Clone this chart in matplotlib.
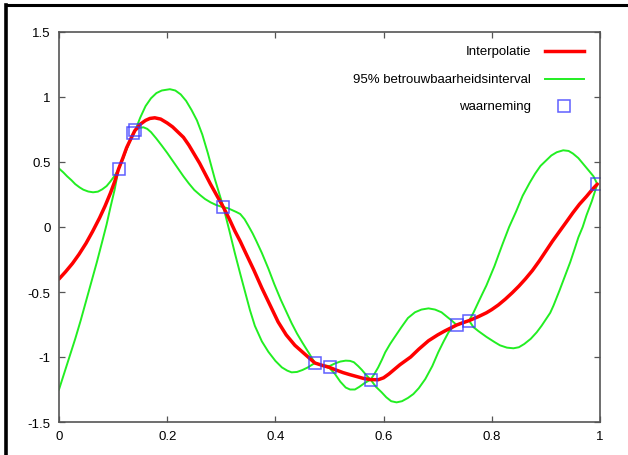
import matplotlib
matplotlib.use("Agg")
import matplotlib.pyplot as plt
from matplotlib.lines import Line2D

plt.rcParams['font.family'] = ['Liberation Sans', 'DejaVu Sans']

# waarnemingen (observations)
obs_x = [0.110, 0.137, 0.141, 0.304, 0.473, 0.500, 0.576, 0.735, 0.758, 0.995]
obs_y = [0.446, 0.723, 0.744, 0.151, -1.046, -1.080, -1.174, -0.754, -0.720, 0.330]

# interpolatie (mean)
mean_x = [0.000, 0.012, 0.025, 0.037, 0.050, 0.062, 0.075, 0.085, 0.095, 0.103,
          0.110, 0.118, 0.125, 0.133, 0.140, 0.150, 0.160, 0.168, 0.177, 0.188,
          0.200, 0.210, 0.220, 0.230, 0.240, 0.250, 0.260, 0.270, 0.280, 0.292,
          0.304, 0.315, 0.325, 0.335, 0.344, 0.360, 0.375, 0.390, 0.405, 0.420,
          0.436, 0.455, 0.473, 0.487, 0.500, 0.512, 0.525, 0.537, 0.550, 0.563,
          0.576, 0.590, 0.600, 0.610, 0.620, 0.630, 0.640, 0.650, 0.665, 0.683,
          0.700, 0.713, 0.725, 0.735, 0.746, 0.758, 0.775, 0.790, 0.800, 0.812,
          0.825, 0.838, 0.850, 0.862, 0.875, 0.888, 0.900, 0.912, 0.925, 0.938,
          0.950, 0.962, 0.975, 0.985, 0.995]
mean_y = [-0.40, -0.345, -0.28, -0.21, -0.125, -0.035, 0.07, 0.16, 0.26, 0.35,
          0.445, 0.53, 0.61, 0.68, 0.74, 0.79, 0.82, 0.835, 0.84, 0.83,
          0.80, 0.77, 0.73, 0.69, 0.63, 0.56, 0.49, 0.41, 0.33, 0.24,
          0.151, 0.06, -0.03, -0.11, -0.19, -0.33, -0.47, -0.60, -0.73, -0.83,
          -0.91, -0.98, -1.046, -1.065, -1.08, -1.10, -1.12, -1.135, -1.15, -1.165,
          -1.174, -1.175, -1.16, -1.13, -1.095, -1.06, -1.03, -1.00, -0.94, -0.875,
          -0.83, -0.80, -0.775, -0.754, -0.737, -0.72, -0.69, -0.66, -0.635, -0.60,
          -0.555, -0.505, -0.455, -0.40, -0.335, -0.26, -0.185, -0.11, -0.035, 0.04,
          0.11, 0.175, 0.235, 0.285, 0.33]

# 95% band, upper side
up_x = [0.000, 0.008, 0.015, 0.023, 0.030, 0.038, 0.045, 0.054, 0.063, 0.072,
        0.080, 0.088, 0.095, 0.103, 0.110, 0.118, 0.125, 0.133, 0.141, 0.150,
        0.160, 0.170, 0.180, 0.190, 0.205, 0.215, 0.225, 0.235, 0.245, 0.255,
        0.265, 0.275, 0.288, 0.296, 0.304, 0.312, 0.320, 0.328, 0.335, 0.343,
        0.350, 0.358, 0.365, 0.375, 0.387, 0.398, 0.410, 0.420, 0.430, 0.440,
        0.450, 0.462, 0.473, 0.485, 0.500, 0.510, 0.520, 0.530, 0.538, 0.545,
        0.553, 0.560, 0.568, 0.576, 0.583, 0.590, 0.597, 0.603, 0.612, 0.620,
        0.633, 0.645, 0.658, 0.670, 0.683, 0.695, 0.707, 0.717, 0.726, 0.735,
        0.746, 0.758, 0.766, 0.775, 0.783, 0.790, 0.798, 0.805, 0.812, 0.820,
        0.832, 0.845, 0.857, 0.870, 0.880, 0.890, 0.900, 0.910, 0.920, 0.932,
        0.942, 0.950, 0.960, 0.972, 0.980, 0.988, 0.995]
up_y = [0.45, 0.42, 0.39, 0.36, 0.33, 0.305, 0.287, 0.273, 0.267, 0.272,
        0.29, 0.315, 0.35, 0.395, 0.446, 0.52, 0.60, 0.68, 0.744, 0.84,
        0.93, 0.99, 1.03, 1.05, 1.06, 1.05, 1.02, 0.97, 0.90, 0.82,
        0.71, 0.57, 0.37, 0.26, 0.151, 0.145, 0.13, 0.115, 0.10, 0.06,
        0.01, -0.05, -0.11, -0.20, -0.32, -0.44, -0.56, -0.65, -0.74, -0.82,
        -0.89, -0.97, -1.046, -1.062, -1.07, -1.05, -1.035, -1.028, -1.03, -1.04,
        -1.07, -1.10, -1.14, -1.174, -1.13, -1.08, -1.02, -0.964, -0.90, -0.85,
        -0.77, -0.70, -0.656, -0.635, -0.626, -0.635, -0.656, -0.69, -0.72, -0.754,
        -0.74, -0.72, -0.66, -0.58, -0.51, -0.45, -0.37, -0.30, -0.22, -0.13,
        0.00, 0.12, 0.24, 0.34, 0.41, 0.47, 0.51, 0.55, 0.575, 0.59,
        0.585, 0.565, 0.53, 0.47, 0.43, 0.39, 0.33]

# 95% band, lower side
lo_x = [0.000, 0.010, 0.020, 0.030, 0.040, 0.050, 0.060, 0.070, 0.080, 0.088,
        0.095, 0.103, 0.110, 0.118, 0.125, 0.133, 0.141, 0.148, 0.156, 0.163,
        0.170, 0.180, 0.190, 0.200, 0.210, 0.220, 0.230, 0.240, 0.250, 0.261,
        0.270, 0.280, 0.290, 0.304, 0.315, 0.325, 0.335, 0.344, 0.353, 0.362,
        0.375, 0.387, 0.400, 0.412, 0.422, 0.430, 0.440, 0.450, 0.460, 0.473,
        0.485, 0.500, 0.510, 0.520, 0.530, 0.538, 0.547, 0.555, 0.565, 0.576,
        0.586, 0.596, 0.605, 0.614, 0.624, 0.634, 0.645, 0.655, 0.665, 0.677,
        0.690, 0.701, 0.711, 0.720, 0.728, 0.735, 0.746, 0.758, 0.766, 0.775,
        0.790, 0.805, 0.815, 0.828, 0.840, 0.850, 0.860, 0.872, 0.883, 0.892,
        0.900, 0.908, 0.914, 0.925, 0.935, 0.945, 0.953, 0.960, 0.968, 0.975,
        0.985, 0.995]
lo_y = [-1.25, -1.12, -0.99, -0.86, -0.72, -0.57, -0.42, -0.27, -0.11, 0.02,
        0.15, 0.29, 0.446, 0.53, 0.60, 0.68, 0.744, 0.762, 0.767, 0.755,
        0.73, 0.68, 0.626, 0.57, 0.51, 0.45, 0.39, 0.335, 0.285, 0.245,
        0.215, 0.19, 0.17, 0.151, -0.03, -0.20, -0.36, -0.50, -0.64, -0.76,
        -0.88, -0.96, -1.03, -1.08, -1.105, -1.118, -1.115, -1.10, -1.08, -1.046,
        -1.065, -1.085, -1.13, -1.19, -1.235, -1.25, -1.25, -1.23, -1.20, -1.174,
        -1.23, -1.27, -1.31, -1.34, -1.349, -1.34, -1.315, -1.285, -1.24, -1.17,
        -1.07, -0.964, -0.88, -0.81, -0.77, -0.754, -0.735, -0.72, -0.77, -0.80,
        -0.845, -0.885, -0.91, -0.928, -0.933, -0.925, -0.90, -0.86, -0.81, -0.76,
        -0.71, -0.66, -0.605, -0.49, -0.38, -0.27, -0.17, -0.08, 0.00, 0.09,
        0.20, 0.33]

green = '#22ee22'
red = '#ff0000'
blue = '#3838ff'

fig = plt.figure(figsize=(6.28, 4.56), dpi=100)
ax = fig.add_axes([59 / 628, 1 - 423 / 456, 541 / 628, 390 / 456])

ax.plot(up_x, up_y, color=green, lw=1.4)
ax.plot(lo_x, lo_y, color=green, lw=1.4)
ax.plot(mean_x, mean_y, color=red, lw=2.5, solid_capstyle='round')
ax.plot(obs_x, obs_y, linestyle='none', marker='s', ms=8, mfc='none',
        mec=blue, mew=1.1, alpha=0.8)

ax.set_xlim(0, 1)
ax.set_ylim(-1.5, 1.5)
ax.set_xticks([0, 0.2, 0.4, 0.6, 0.8, 1])
ax.set_xticklabels(['0', '0.2', '0.4', '0.6', '0.8', '1'])
ax.set_yticks([-1.5, -1, -0.5, 0, 0.5, 1, 1.5])
ax.set_yticklabels(['-1.5', '-1', '-0.5', '0', '0.5', '1', '1.5'])
ax.tick_params(direction='in', length=4, width=0.9, color='#555555',
               labelsize=9.5, top=True, right=True, pad=6)
for s in ax.spines.values():
    s.set_color('#555555')
    s.set_linewidth(1.2)

# legend, gnuplot style (text right aligned, sample on the right)
labels = ['Interpolatie', '95% betrouwbaarheidsinterval', 'waarneming']
ly = [0.951, 0.879, 0.810]
for lab, yy in zip(labels, ly):
    ax.text(0.8725, yy, lab, transform=ax.transAxes, ha='right', va='center',
            fontsize=9.5)
ax.plot([0.898, 0.970], [ly[0], ly[0]], transform=ax.transAxes, color=red, lw=2.5)
ax.plot([0.898, 0.970], [ly[1], ly[1]], transform=ax.transAxes, color=green, lw=1.4)
ax.plot([0.933], [ly[2]], transform=ax.transAxes, marker='s', ms=8, mfc='none',
        mec=blue, mew=1.1, alpha=0.8, linestyle='none')

# screenshot frame on the top and left
fig.add_artist(Line2D([6 / 628, 1], [1 - 6 / 456, 1 - 6 / 456], color='black', lw=2.2))
fig.add_artist(Line2D([6 / 628, 6 / 628], [0, 1 - 6 / 456], color='black', lw=2.6))

fig.savefig('out.png', dpi=100)
